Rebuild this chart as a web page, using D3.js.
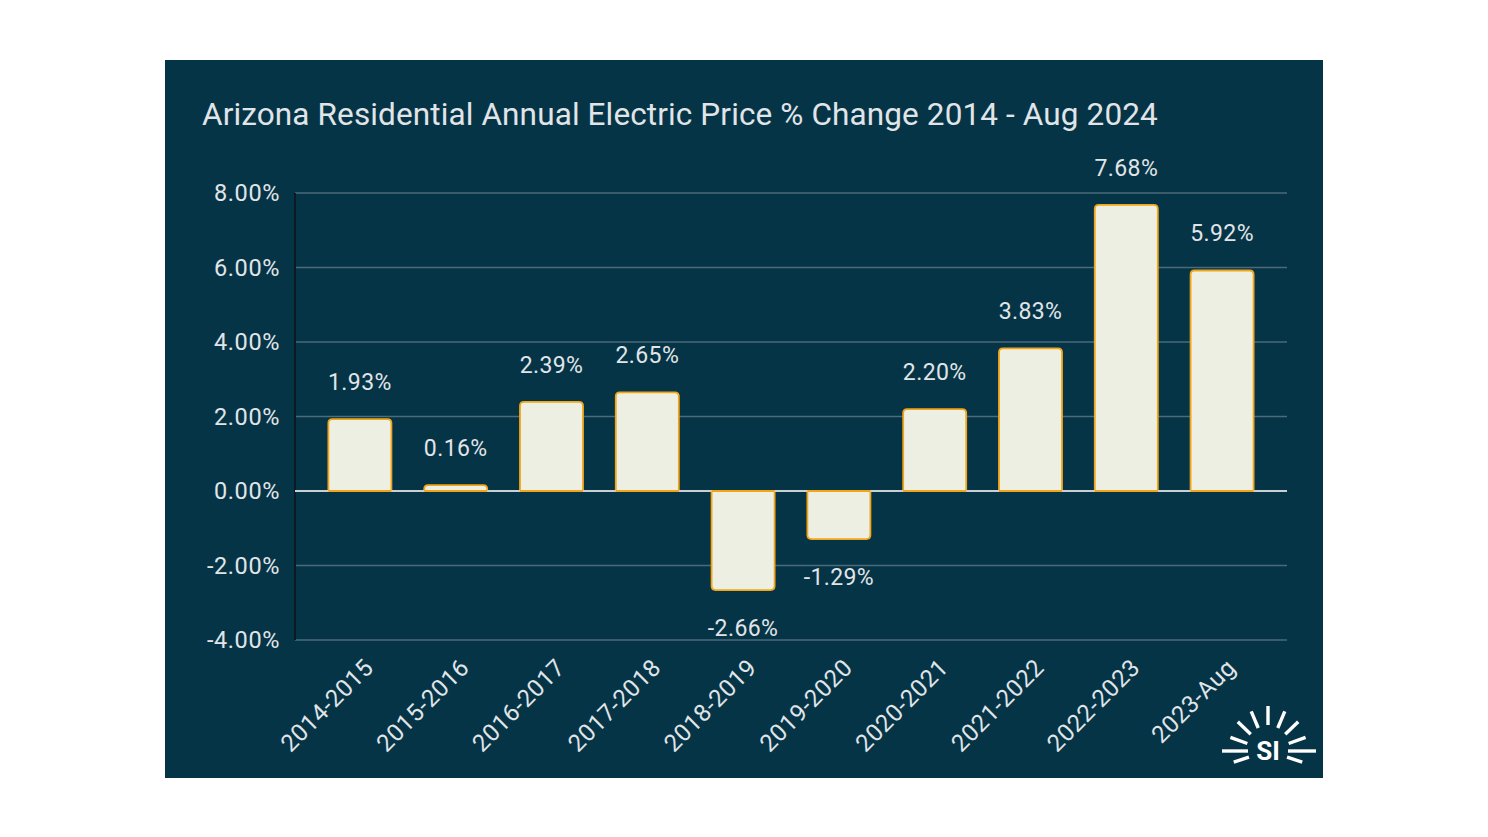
<!DOCTYPE html>
<html>
<head>
<meta charset="utf-8">
<script src="https://cdn.jsdelivr.net/npm/d3@7"></script>
<style>
  html, body { margin: 0; padding: 0; background: #ffffff; }
  svg { display: block; }
  text { font-family: Roboto, "Noto Sans", sans-serif; }
</style>
</head>
<body>
<svg id="chart" width="1488" height="837"></svg>
<script>
const title = "Arizona Residential Annual Electric Price % Change 2014 - Aug 2024";
const categories = ["2014-2015","2015-2016","2016-2017","2017-2018","2018-2019","2019-2020","2020-2021","2021-2022","2022-2023","2023-Aug"];
const values = [1.93, 0.16, 2.39, 2.65, -2.66, -1.29, 2.20, 3.83, 7.68, 5.92];
const yTicks = [-4, -2, 0, 2, 4, 6, 8];

const svg = d3.select("#chart");
const bg = "#053447";
const textCol = "#e1e5e8";

// panel
svg.append("rect").attr("x", 165).attr("y", 60).attr("width", 1158).attr("height", 718).attr("fill", bg);

// title
svg.append("text").attr("x", 202).attr("y", 125)
  .attr("fill", textCol).attr("font-size", 31.5).attr("letter-spacing", 0.12).text(title);

const y = d3.scaleLinear().domain([-4, 8]).range([640, 193]);
const x = d3.scaleBand().domain(categories).range([312, 1270]).paddingInner(0.342).paddingOuter(0.171);

// gridlines
svg.append("g").selectAll("line").data(yTicks.filter(d => d !== 0)).join("line")
  .attr("x1", 295).attr("x2", 1287)
  .attr("y1", d => y(d)).attr("y2", d => y(d))
  .attr("stroke", "#4b6a7a").attr("stroke-width", 1.5);

// y axis tick labels
const yAxis = d3.axisLeft(y).tickValues(yTicks).tickSize(0).tickPadding(0)
  .tickFormat(d => d.toFixed(2) + "%");
const gy = svg.append("g").attr("transform", "translate(280,0)").call(yAxis);
gy.select(".domain").remove();
gy.selectAll("text").attr("fill", textCol).attr("font-size", 23.5).attr("letter-spacing", 0.6)
  .attr("font-family", "Roboto, 'Noto Sans', sans-serif");

// vertical axis line
svg.append("line").attr("x1", 295).attr("x2", 295).attr("y1", y(8)).attr("y2", y(-4))
  .attr("stroke", "#0b1b24").attr("stroke-width", 2);

// bars with rounded outer corners
const r = 4;
function barPath(v, cat) {
  const x0 = x(cat), w = x.bandwidth();
  const y0 = y(0), y1 = y(v);
  if (v >= 0) {
    return `M${x0},${y0} V${y1 + r} Q${x0},${y1} ${x0 + r},${y1} H${x0 + w - r} Q${x0 + w},${y1} ${x0 + w},${y1 + r} V${y0} Z`;
  } else {
    return `M${x0},${y0} V${y1 - r} Q${x0},${y1} ${x0 + r},${y1} H${x0 + w - r} Q${x0 + w},${y1} ${x0 + w},${y1 - r} V${y0} Z`;
  }
}
svg.append("g").selectAll("path").data(values).join("path")
  .attr("d", (d, i) => barPath(d, categories[i]))
  .attr("fill", "#eeefe3").attr("stroke", "#f2a516").attr("stroke-width", 1.8);

// zero line
svg.append("line").attr("x1", 295).attr("x2", 1287).attr("y1", y(0)).attr("y2", y(0))
  .attr("stroke", "#c9d0d4").attr("stroke-width", 2);
svg.append("g").selectAll("rect").data(values).join("rect")
  .attr("x", (d, i) => x(categories[i]) + 1).attr("width", x.bandwidth() - 2)
  .attr("y", y(0) - 1).attr("height", 2).attr("fill", "#eeefe3");
svg.append("g").selectAll("line").data(values).join("line")
  .attr("x1", (d, i) => x(categories[i])).attr("x2", (d, i) => x(categories[i]) + x.bandwidth())
  .attr("y1", y(0)).attr("y2", y(0)).attr("stroke", "#f2a516").attr("stroke-width", 1.8);

// value labels
svg.append("g").selectAll("text").data(values).join("text")
  .attr("x", (d, i) => x(categories[i]) + x.bandwidth() / 2)
  .attr("y", d => d >= 0 ? y(d) - 29 : y(d) + 46)
  .attr("text-anchor", "middle").attr("fill", textCol).attr("font-size", 23).attr("letter-spacing", 0.4)
  .text(d => d.toFixed(2) + "%");

// x labels rotated
svg.append("g").selectAll("text").data(categories).join("text")
  .attr("transform", d => `translate(${x(d) + x.bandwidth() / 2 + 15},${669}) rotate(-45)`)
  .attr("text-anchor", "end").attr("fill", textCol).attr("font-size", 24).attr("letter-spacing", 0.5)
  .text(d => d);

// logo
const logoCx = 1268, logoCy = 751;
const rays = [
  [-90, 26, 45], [-113, 25, 43], [-136, 24, 42], [-160, 22, 40], [180, 20, 46], [162, 20, 36],
  [-67, 25, 43], [-44, 24, 42], [-20, 22, 40], [0, 20, 48], [18, 20, 36]
];
svg.append("g").selectAll("line").data(rays).join("line")
  .attr("x1", d => logoCx + d[1] * Math.cos(d[0] * Math.PI / 180))
  .attr("y1", d => logoCy + d[1] * Math.sin(d[0] * Math.PI / 180))
  .attr("x2", d => logoCx + d[2] * Math.cos(d[0] * Math.PI / 180))
  .attr("y2", d => logoCy + d[2] * Math.sin(d[0] * Math.PI / 180))
  .attr("stroke", "#ffffff").attr("stroke-width", 3.4).attr("stroke-linecap", "butt");
svg.append("text").attr("x", logoCx).attr("y", logoCy + 9).attr("text-anchor", "middle")
  .attr("fill", "#ffffff").attr("font-size", 26).attr("font-weight", 700).text("SI");
</script>
</body>
</html>
